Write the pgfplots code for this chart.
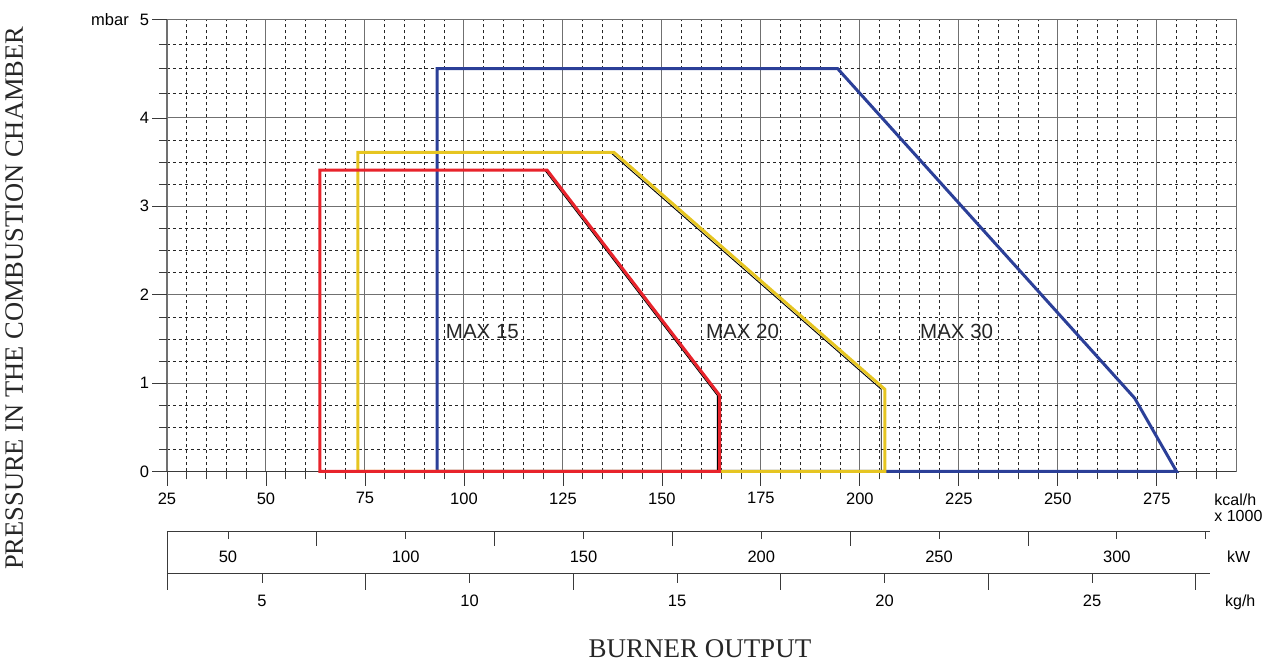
\documentclass[border=0pt]{standalone}
\usepackage{pgfplots}
\pgfplotsset{compat=1.18}
\usepackage{fontspec}
\setmainfont{Liberation Serif}
\newfontfamily\sans{Liberation Sans}
\definecolor{cred}{HTML}{E8232B}
\definecolor{cyel}{HTML}{E6C521}
\definecolor{cblue}{HTML}{2B3F98}
\definecolor{cgrid}{HTML}{707070}
\definecolor{cline}{HTML}{3A3A3A}
\pgfplotsset{
  every outer x axis line/.append style={-},
  every outer y axis line/.append style={-},
  every inner x axis line/.append style={-},
  every inner y axis line/.append style={-},
}
\begin{document}
\begin{tikzpicture}[x=1pt,y=1pt]
\useasboundingbox (-167pt,-191.5pt) rectangle (1107pt,471.5pt);
% main axis
\begin{axis}[
  at={(0pt,0pt)}, anchor=south west,
  scale only axis, width=1069pt, height=452pt,
  xmin=25, xmax=295, ymin=0, ymax=5,
  y coord trafo/.code={\pgfmathparse{(#1>4)?(4+(#1-4)*1.1136):(#1)}},
  clip=false,
  axis line style={cgrid, line width=0.9pt},
  xtick={25,50,...,275},
  xticklabels={25,50,75,100,125,150,175,200,225,250,275},
  minor xtick={30,35,40,45,55,60,65,70,80,85,90,95,105,110,115,120,130,135,140,145,155,160,165,170,180,185,190,195,205,210,215,220,230,235,240,245,255,260,265,270,280,285,290},
  ytick={0,1,2,3,4,5},
  yticklabels={0,1,2,3,4,{mbar\hspace{11pt}5}},
  minor ytick={0.25,0.5,0.75,1.25,1.5,1.75,2.25,2.5,2.75,3.25,3.5,3.75,4.25,4.5,4.75},
  xtick pos=bottom, ytick pos=left,
  tick align=outside,
  major tick length=14.5pt, minor tick length=8pt,
  major tick style={cline, line width=0.8pt},
  minor tick style={cline, line width=0.6pt},
  grid=both,
  major grid style={cgrid, line width=1pt},
  minor grid style={black!85, line width=0.6pt, dash pattern=on 3pt off 3pt},
  tick label style={font=\sans\fontsize{16.5}{19}\selectfont, text=black},
  xticklabel style={yshift=-3pt},
  /pgf/number format/assume math mode=true,
]
\addplot[cline, line width=1pt] coordinates {(25,0) (295,0)};
\addplot[cblue, line width=3pt, line join=miter, line cap=rect] coordinates {(93.2,0) (93.2,4.5) (194.4,4.5) (269.4,0.83) (280,0) (93.2,0)};
\addplot[black, line width=0.9pt] coordinates {(137.0,3.61) (205.4,0.93) (205.4,0)};
\addplot[cyel, line width=3pt, line join=miter, line cap=rect] coordinates {(73.2,0) (73.2,3.61) (137.9,3.61) (206.3,0.93) (206.3,0) (73.2,0)};
\addplot[black, line width=0.9pt] coordinates {(120.4,3.41) (164.0,0.86) (164.0,0)};
\addplot[cred, line width=3pt, line join=miter, line cap=rect] coordinates {(63.6,0) (63.6,3.41) (121.0,3.41) (164.6,0.86) (164.6,0) (63.6,0)};
\node[anchor=base west, inner sep=0, font=\sans\fontsize{20.5}{24}\selectfont, text=black!85] at (axis cs:95.4,1.5) {MAX 15};
\node[anchor=base west, inner sep=0, font=\sans\fontsize{20.5}{24}\selectfont, text=black!85] at (axis cs:161.1,1.5) {MAX 20};
\node[anchor=base west, inner sep=0, font=\sans\fontsize{20.5}{24}\selectfont, text=black!85] at (axis cs:215.2,1.5) {MAX 30};
\node[anchor=base west, inner sep=0, font=\sans\fontsize{16}{18}\selectfont] at (axis cs:289.5,-0.39) {kcal/h};
\node[anchor=base west, inner sep=0, font=\sans\fontsize{16}{18}\selectfont] at (axis cs:289.5,-0.571) {x 1000};
\node[anchor=base west, inner sep=0, font=\sans\fontsize{16}{18}\selectfont] at (axis cs:292.7,-1.024) {kW};
\node[anchor=base west, inner sep=0, font=\sans\fontsize{16}{18}\selectfont] at (axis cs:292.2,-1.522) {kg/h};
\node[anchor=base, inner sep=0, font=\fontsize{27}{30}\selectfont, text=black!85] at (axis cs:159.6,-2.099) {BURNER OUTPUT};
\node[anchor=base, rotate=90, inner sep=0, font=\fontsize{26.5}{30}\selectfont, text=black!85] at (axis cs:-11.4,1.96) {PRESSURE IN THE COMBUSTION CHAMBER};
\end{axis}
% kW scale
\begin{axis}[
  at={(0pt,-59.5pt)}, anchor=south west,
  scale only axis, width=1043pt, height=20pt,
  xmin=32.85, xmax=326.2, ymin=0, ymax=1,
  axis x line*=bottom, axis y line=none,
  axis line style={cline, line width=0.9pt},
  xtick={50,100,150,200,250,300,325},
  xticklabels={50,100,150,200,250,300,{}},
  minor xtick={75,125,175,225,275},
  tick align=outside,
  major tick length=8pt, minor tick length=15pt,
  major tick style={cline, line width=0.8pt},
  minor tick style={cline, line width=0.8pt},
  xticklabel style={font=\sans\fontsize{16.5}{19}\selectfont, yshift=-8.5pt},
]
\end{axis}
% kg/h scale
\begin{axis}[
  at={(0pt,-101.5pt)}, anchor=south west,
  scale only axis, width=1043pt, height=42pt,
  xmin=2.711, xmax=27.84, ymin=0, ymax=1,
  axis x line*=bottom, axis y line*=left,
  axis line style={cline, line width=0.9pt},
  ytick=\empty,
  xtick={5,10,15,20,25},
  xticklabels={5,10,15,20,25},
  minor xtick={2.72,7.5,12.5,17.5,22.5,27.5},
  tick align=outside,
  major tick length=10pt, minor tick length=17pt,
  major tick style={cline, line width=0.8pt},
  minor tick style={cline, line width=0.8pt},
  xticklabel style={font=\sans\fontsize{16.5}{19}\selectfont, yshift=-8.5pt},
]
\end{axis}
\end{tikzpicture}
\end{document}
